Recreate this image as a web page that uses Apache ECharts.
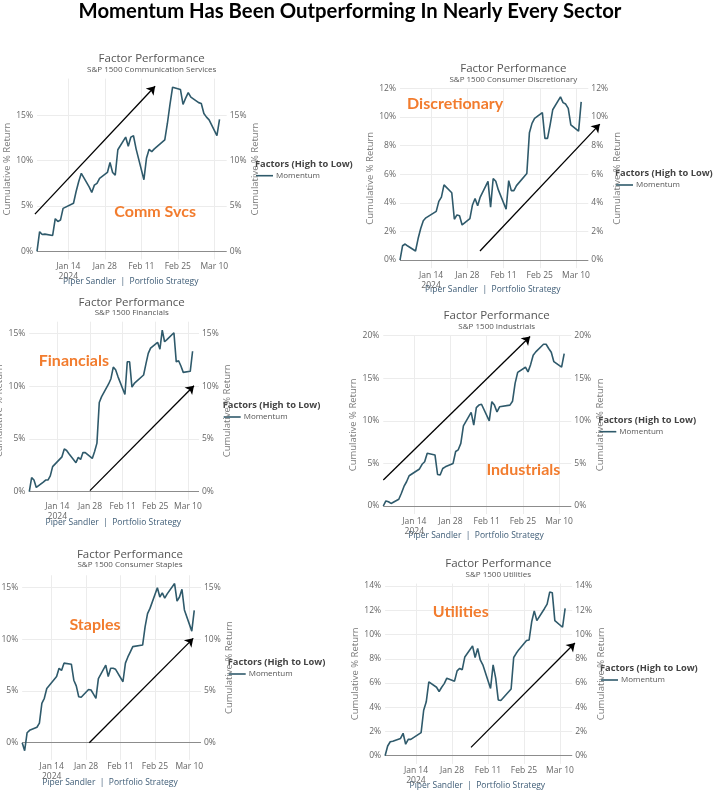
<!DOCTYPE html>
<html><head><meta charset="utf-8">
<script src="https://cdn.jsdelivr.net/npm/echarts@6/dist/echarts.min.js"></script>
<style>html,body{margin:0;padding:0;background:#fff}#c{width:715px;height:795px}</style>
</head><body><div id="c"></div>
<script>
// ---------- DATA ----------
const tradingDates = ['2024-01-02','2024-01-03','2024-01-04','2024-01-05','2024-01-08','2024-01-09','2024-01-10','2024-01-11','2024-01-12',
'2024-01-16','2024-01-17','2024-01-18','2024-01-19','2024-01-22','2024-01-23','2024-01-24','2024-01-25','2024-01-26',
'2024-01-29','2024-01-30','2024-01-31','2024-02-01','2024-02-02','2024-02-05','2024-02-06','2024-02-07','2024-02-08','2024-02-09',
'2024-02-12','2024-02-13','2024-02-14','2024-02-15','2024-02-16','2024-02-20','2024-02-21','2024-02-22','2024-02-23',
'2024-02-26','2024-02-27','2024-02-28','2024-02-29','2024-03-01','2024-03-04','2024-03-05','2024-03-06','2024-03-07','2024-03-08',
'2024-03-11','2024-03-12'];
const tickDates = ['2024-01-14','2024-01-28','2024-02-11','2024-02-25','2024-03-10'];
const tickLabels = ['Jan 14','Jan 28','Feb 11','Feb 25','Mar 10'];
const yearLabel = '2024';
const xRangeEndDate = '2024-03-14T18:00:00Z';

const commSvcs = [0,2.17,1.85,1.9,1.75,3.6,3.3,3.45,4.74,5.3,6.6,7.7,8.6,7.1,6.5,7.3,7.5,8.05,8.7,9.8,8.7,8.4,11.2,12.6,11.6,12.6,12.75,11.3,7.9,10.3,11.25,11.0,11.3,12.3,14.1,16.2,18.1,17.85,16.2,16.9,17.5,17.0,16.4,16.3,15.2,14.8,14.5,12.75,14.55];
const discretionary = [0,1.0,1.12,0.98,0.63,1.5,2.2,2.75,2.95,3.4,4.1,4.4,5.25,4.7,2.85,3.15,3.1,2.45,2.9,3.85,4.3,3.8,4.4,5.5,3.7,5.7,5.5,4.9,3.55,5.55,4.85,4.85,5.2,6.05,8.9,9.55,9.9,10.3,8.5,8.5,9.45,10.5,11.4,11.0,10.9,10.6,9.45,9.0,11.05];
const financials = [0,1.33,1.1,0.4,0.9,1.1,1.1,1.5,2.37,3.3,4.05,3.9,3.6,2.75,3.25,3.05,3.7,3.7,3.15,3.8,4.6,8.45,9.0,10.2,10.7,11.8,11.55,10.9,9.2,12.3,12.3,9.9,10.25,11.05,12.1,13.1,13.6,14.15,13.5,15.3,14.2,14.4,15.05,12.3,12.4,11.9,11.3,11.4,13.3];
const industrials = [0,0.6,0.5,0.3,0.8,1.5,2.3,2.85,3.55,4.35,4.9,5.2,6.2,6.0,3.7,3.65,4.4,4.6,5.0,6.4,6.6,7.35,9.4,11.0,9.5,11.55,11.85,11.95,10.0,12.25,11.85,11.05,11.65,11.85,12.3,14.4,15.7,16.3,15.75,16.6,17.7,18.1,19.0,19.0,18.5,18.05,16.95,16.3,17.9];
const staples = [0,-0.77,0.97,1.2,1.5,1.9,3.8,4.3,5.25,6.4,7.2,7.0,7.7,7.6,6.05,5.5,4.45,4.4,5.15,5.1,4.7,4.3,6.2,7.5,6.4,7.2,7.2,7.1,5.9,7.7,8.3,8.8,9.3,9.45,11.2,12.5,13.0,15.0,14.1,14.5,14.0,14.4,15.4,13.7,14.1,14.85,12.85,10.8,12.8];
const utilities = [0,0.8,1.15,1.2,1.43,1.85,0.95,1.35,1.35,1.9,3.75,4.45,6.1,5.65,5.3,5.65,5.95,6.4,6.15,7.0,7.2,7.1,8.15,9.05,8.1,8.85,7.9,7.5,5.55,7.5,6.4,4.6,4.55,5.5,8.1,8.45,8.75,9.5,9.55,11.05,11.95,11.15,12.15,12.5,13.5,13.45,11.15,10.6,12.15];

const sectorNames = ['S&P 1500 Communication Services','S&P 1500 Consumer Discretionary','S&P 1500 Financials','S&P 1500 Industrials','S&P 1500 Consumer Staples','S&P 1500 Utilities'];
const sectorTags = ['Comm Svcs','Discretionary','Financials','Industrials','Staples','Utilities'];
const seriesValues = [commSvcs, discretionary, financials, industrials, staples, utilities];
const yTicks = [[0,5,10,15],[0,2,4,6,8,10,12],[0,5,10,15],[0,5,10,15,20],[0,5,10,15],[0,2,4,6,8,10,12,14]];
const yRanges = [[-0.9,19.05],[-0.57,12.0],[-0.77,16.1],[-0.95,20.0],[-1.66,16.2],[-0.675,14.2]];
// annotation positions in data space: [days since first trading date, % return]
const arrowStarts = [[-0.8,4.1],[30.9,0.63],[26,0.1],[0,3.05],[27.3,0],[33.4,0.69]];
const arrowEnds = [[45.3,18.2],[77.2,9.5],[70.6,10.04],[56.8,19.9],[69.6,10.1],[73.8,9.3]];
const tagPositions = [[45.3,4.4],[21.3,10.9],[19.1,12.4],[54.2,4.3],[29.6,11.4],[29.4,11.9]];

const mainTitle = 'Momentum Has Been Outperforming In Nearly Every Sector';
const chartTitle = 'Factor Performance';
const yName = 'Cumulative % Return';
const legendTitle = 'Factors (High to Low)';
const seriesName = 'Momentum';
const footerText = 'Piper Sandler  |  Portfolio Strategy';

// ---------- LAYOUT ----------
const layout = [
  {grid:{left:37, top:78.6, width:189.7, height:180.9}, title:[151.7,53], gaps:[22.5,21], legend:[255,164.3,175.7], footer:[130.7,281.7]},
  {grid:{left:400, top:88.3, width:188.3, height:179.9}, title:[513.3,63], gaps:[24.5,19.5], legend:[615,173.3,185], footer:[492.7,290]},
  {grid:{left:29.3, top:321.7, width:169.7, height:178.1}, title:[131.7,296.3], gaps:[19.8,17.2], legend:[222.7,405.7,417], footer:[113.3,522.3]},
  {grid:{left:383.3, top:335.7, width:188, height:178.4}, title:[496.7,310], gaps:[22.8,20], legend:[598.3,420,431.7], footer:[476,536]},
  {grid:{left:22.2, top:575.3, width:178.8, height:184.6}, title:[130,548.3], gaps:[22,19.5], legend:[227.7,662.3,674], footer:[110,782.7]},
  {grid:{left:385.1, top:583.6, width:187.1, height:180.3}, title:[498.3,558], gaps:[23.5,20], legend:[600,668.3,680], footer:[477.3,786]}
];

const FONT = 'Open Sans';
const LINE_COLOR = '#2F5A6B';
const ORANGE = '#F27C2E';
const t0 = Date.parse(tradingDates[0]);
const dayOf = s => (Date.parse(s) - t0) / 86400000;
const tickDays = tickDates.map(dayOf);
const xMax = dayOf(xRangeEndDate);

const grids = [], xAxes = [], yAxes = [], series = [], titles = [], graphics = [];

titles.push({text: mainTitle, left: 350, top: 0, textAlign: 'center', padding: 0,
  textStyle: {fontFamily: 'Lato', fontWeight: 'bold', fontSize: 20.3, lineHeight: 22, color: '#000'}});

layout.forEach((L, i) => {
  grids.push(Object.assign({outerBoundsMode: 'none', containLabel: false}, L.grid));
  titles.push({text: chartTitle, subtext: sectorNames[i], left: L.title[0], top: L.title[1], textAlign: 'center',
    padding: 0, itemGap: 0,
    textStyle: {fontFamily: FONT, fontWeight: 'normal', fontSize: 11.5, lineHeight: 12, color: '#555'},
    subtextStyle: {fontFamily: FONT, fontSize: 8, lineHeight: 9, color: '#555'}});
  xAxes.push({type: 'value', gridIndex: i, min: 0, max: xMax,
    axisLine: {show: false},
    axisTick: {show: false, customValues: tickDays},
    axisLabel: {customValues: tickDays, margin: 2, fontFamily: FONT, fontSize: 8.5, lineHeight: 10, color: '#666',
      formatter: (v) => { const k = tickDays.indexOf(v); return k === 0 ? tickLabels[k] + '\n' + yearLabel : tickLabels[k]; }},
    splitLine: {show: true, lineStyle: {color: '#ececec', width: 1}}});
  const [ymin, ymax] = yRanges[i];
  const common = {type: 'value', gridIndex: i, min: ymin, max: ymax, name: yName, nameLocation: 'middle', nameRotate: 90,
    nameTextStyle: {fontFamily: FONT, fontSize: 9.5, color: '#7a7a7a'},
    axisLine: {show: false},
    axisTick: {show: false, customValues: yTicks[i]}};
  yAxes.push(Object.assign({}, common, {position: 'left', nameGap: L.gaps[0],
    axisLabel: {customValues: yTicks[i], margin: 4, fontFamily: FONT, fontSize: 8.5, color: '#666', formatter: v => v + '%'},
    splitLine: {show: true, lineStyle: {color: '#ececec', width: 1}}}));
  yAxes.push(Object.assign({}, common, {position: 'right', nameGap: L.gaps[1],
    axisLabel: {customValues: yTicks[i], margin: 3, fontFamily: FONT, fontSize: 8.5, color: '#666', formatter: v => v + '%'},
    splitLine: {show: false}}));

  series.push({type: 'line', name: seriesName, xAxisIndex: i, yAxisIndex: 2 * i,
    data: tradingDates.map((d, k) => [dayOf(d), seriesValues[i][k]]),
    symbol: 'none', lineStyle: {color: LINE_COLOR, width: 1.6}, itemStyle: {color: LINE_COLOR},
    z: 3, animation: false,
    markLine: {silent: true, symbol: 'none', animation: false, label: {show: false},
      lineStyle: {color: '#8c8c8c', width: 1, type: 'solid'}, data: [{yAxis: 0}], z: 2},
    markPoint: {silent: true, symbol: 'rect', symbolSize: 1, animation: false, itemStyle: {color: 'rgba(0,0,0,0)'},
      label: {show: true, position: 'inside', formatter: sectorTags[i], color: ORANGE, fontFamily: 'Lato', fontWeight: 'bold', fontSize: 16},
      data: [{coord: tagPositions[i], name: sectorTags[i]}]}
  });
  series.push({type: 'lines', coordinateSystem: 'cartesian2d', xAxisIndex: i, yAxisIndex: 2 * i, clip: false,
    silent: true, animation: false, z: 4,
    symbol: ['none', 'arrow'], symbolSize: 8,
    lineStyle: {color: '#000', width: 1.3, opacity: 1, curveness: 0},
    data: [{coords: [arrowStarts[i], arrowEnds[i]]}]});

  const [lx, ly, iy] = L.legend;
  graphics.push({type: 'text', silent: true, style: {text: legendTitle, x: lx, y: ly, textVerticalAlign: 'middle',
    font: 'bold 9.3px "Open Sans"', fill: '#444'}});
  graphics.push({type: 'line', silent: true, shape: {x1: lx + 1, y1: iy, x2: lx + 18, y2: iy},
    style: {stroke: LINE_COLOR, lineWidth: 1.6}});
  graphics.push({type: 'text', silent: true, style: {text: seriesName, x: lx + 21, y: iy, textVerticalAlign: 'middle',
    font: '8px "Open Sans"', fill: '#555'}});
  graphics.push({type: 'text', silent: true, style: {text: footerText, x: L.footer[0], y: L.footer[1], textAlign: 'center',
    textVerticalAlign: 'middle', font: '8.5px "Open Sans"', fill: '#3E5C76'}});
});

const chart = echarts.init(document.getElementById('c'), null, {renderer: 'canvas'});
chart.setOption({
  animation: false,
  backgroundColor: '#fff',
  title: titles,
  grid: grids,
  xAxis: xAxes,
  yAxis: yAxes,
  series: series,
  graphic: graphics
});
</script>
</body></html>
